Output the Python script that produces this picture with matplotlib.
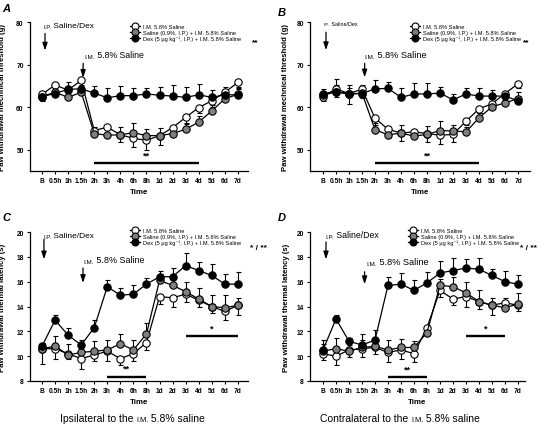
import numpy as np
import matplotlib
matplotlib.use('Agg')
import matplotlib.pyplot as plt
from matplotlib.lines import Line2D

plt.rcParams['font.family'] = ['Liberation Sans', 'DejaVu Sans']

# %% data
time_labels = ['B', '0.5h', '1h', '1.5h', '2h', '3h', '4h', '6h', '8h',
               '1d', '2d', '3d', '4d', '5d', '6d', '7d']

# A: mechanical threshold, ipsilateral
a_ims = [63.0, 65.2, 64.0, 66.3, 54.5, 55.3, 53.5, 52.7, 52.2, 53.3, 55.2, 57.6, 59.9, 61.5, 63.5, 65.8]
a_ims_err = [1.5, 1.8, 1.5, 1.0, 1.2, 1.5, 1.8, 2.0, 2.2, 2.2, 1.5, 1.5, 1.2, 1.5, 1.5, 1.0]
a_sal = [62.5, 63.5, 62.3, 63.5, 53.8, 53.4, 53.5, 54.0, 53.3, 53.3, 53.8, 54.8, 56.5, 59.1, 62.0, 63.0]
a_sal_err = [1.0, 1.5, 1.5, 1.2, 1.5, 1.5, 1.8, 2.2, 1.5, 1.8, 1.5, 1.5, 1.5, 1.5, 1.8, 1.2]
a_dex = [62.5, 63.2, 64.2, 64.3, 63.3, 62.2, 62.7, 62.7, 63.1, 62.8, 62.6, 62.3, 62.9, 62.3, 62.9, 62.9]
a_dex_err = [1.0, 1.8, 1.8, 1.5, 1.7, 2.4, 2.2, 1.8, 1.4, 2.0, 2.6, 2.5, 2.6, 1.8, 1.8, 1.5]

# B: mechanical threshold, contralateral
b_ims = [62.5, 64.3, 63.2, 64.2, 57.4, 54.8, 53.9, 54.2, 53.8, 53.4, 53.6, 56.7, 59.6, 60.8, 63.2, 65.5]
b_ims_err = [1.0, 2.0, 2.5, 2.0, 1.5, 2.0, 1.8, 1.5, 2.0, 2.0, 1.8, 1.0, 1.0, 1.0, 1.0, 1.0]
b_sal = [62.8, 63.6, 63.0, 63.3, 54.7, 53.5, 53.9, 53.2, 53.6, 54.5, 54.4, 54.2, 57.5, 60.1, 61.0, 62.0]
b_sal_err = [1.0, 1.5, 1.5, 1.5, 1.5, 1.8, 2.0, 1.5, 2.0, 2.3, 1.5, 1.2, 1.2, 1.2, 1.2, 1.5]
b_dex = [63.2, 63.6, 63.2, 63.2, 64.3, 64.4, 62.3, 63.1, 63.1, 63.3, 61.7, 63.1, 62.6, 62.6, 62.6, 61.5]
b_dex_err = [1.0, 2.9, 2.0, 2.0, 2.0, 1.4, 2.3, 2.6, 2.5, 1.5, 1.5, 1.5, 1.8, 1.5, 1.2, 1.2]

# C: thermal latency, ipsilateral
c_ims = [10.6, 10.6, 10.2, 9.8, 10.1, 10.4, 9.8, 10.2, 11.1, 14.8, 14.7, 15.0, 14.5, 14.0, 13.6, 14.1]
c_ims_err = [1.2, 0.8, 0.4, 0.8, 0.5, 0.8, 0.5, 0.6, 0.6, 0.6, 0.7, 0.6, 0.5, 0.5, 0.7, 0.8]
c_sal = [10.6, 10.8, 10.1, 10.3, 10.4, 10.5, 11.0, 10.5, 11.8, 16.1, 15.7, 15.2, 14.6, 14.0, 13.9, 14.1]
c_sal_err = [0.5, 0.8, 0.9, 0.6, 0.8, 0.8, 0.8, 0.8, 0.9, 0.5, 0.7, 0.8, 0.9, 0.9, 1.0, 0.6]
c_dex = [10.8, 12.9, 11.7, 10.9, 12.3, 15.6, 14.9, 15.0, 15.8, 16.4, 16.4, 17.3, 16.9, 16.5, 15.8, 15.8]
c_dex_err = [0.3, 0.4, 0.6, 0.4, 0.6, 0.5, 0.6, 0.7, 0.5, 0.5, 0.7, 1.0, 0.7, 0.9, 0.8, 1.0]

# D: thermal latency, contralateral
d_ims = [10.2, 10.0, 10.5, 10.6, 10.7, 10.3, 10.5, 10.2, 12.3, 15.3, 14.6, 14.8, 14.4, 14.1, 14.3, 14.1]
d_ims_err = [0.5, 0.7, 0.6, 0.7, 0.5, 0.8, 0.7, 0.7, 0.4, 0.5, 0.5, 0.8, 0.6, 0.8, 0.4, 0.5]
d_sal = [10.4, 10.6, 10.4, 10.7, 10.8, 10.5, 10.7, 10.7, 11.9, 15.7, 15.6, 15.1, 14.4, 14.1, 13.9, 14.2]
d_sal_err = [0.6, 0.9, 0.5, 0.6, 0.7, 0.8, 0.7, 0.5, 0.5, 0.5, 0.8, 0.9, 0.9, 0.6, 0.8, 0.9]
d_dex = [10.5, 13.0, 11.2, 10.9, 11.3, 15.7, 15.8, 15.3, 15.9, 16.7, 16.9, 17.1, 17.0, 16.5, 16.0, 15.8]
d_dex_err = [0.8, 0.3, 0.3, 0.9, 0.8, 0.7, 0.9, 0.8, 0.9, 1.0, 1.0, 0.7, 0.9, 0.5, 0.9, 0.7]

# significance bars: (start index, end index, level, label)
a_sig = [(4, 12, 46.8, '**')]
b_sig = [(4, 12, 46.8, '**')]
c_sig = [(5, 8, 8.35, '**'), (11, 15, 11.6, '*')]
d_sig = [(5, 8, 8.3, '**'), (11, 14, 11.6, '*')]

leg_labels = ['I.M. 5.8% Saline',
              'Saline (0.9%, I.P.) + I.M. 5.8% Saline',
              'Dex (5 \u03bcg kg\u207b\u00b9, I.P.) + I.M. 5.8% Saline']


def chain_text(ax, x, y, parts, transform=None):
    # small caps faked with a smaller font for the abbreviations
    t = ax.text(x, y, parts[0][0], fontsize=parts[0][1], va='bottom', ha='left',
                transform=transform if transform is not None else ax.transData)
    for s, fs in parts[1:]:
        t = ax.annotate(s, xy=(1, 0), xycoords=t, fontsize=fs, va='bottom', ha='left')
    return t


def draw_panel(ax, ims, ims_err, sal, sal_err, dex, dex_err, sig):
    x = np.arange(len(time_labels))
    z = np.zeros(len(x))
    ekw = dict(fmt='none', ecolor='black', elinewidth=0.8, capsize=1.8, capthick=0.8, zorder=2)
    ax.errorbar(x, ims, yerr=[ims_err, z], **ekw)
    ax.errorbar(x, sal, yerr=[z, sal_err], **ekw)
    ax.errorbar(x, dex, yerr=[z, dex_err], **ekw)
    mkw = dict(marker='o', ms=5.3, color='black', lw=0.9, mec='black', mew=0.8)
    ax.plot(x, ims, mfc='white', zorder=3, **mkw)
    ax.plot(x, sal, mfc='#7f7f7f', zorder=4, **mkw)
    ax.plot(x, dex, mfc='black', zorder=5, **mkw)
    for i0, i1, lev, lab in sig:
        ax.plot([x[i0], x[i1]], [lev, lev], color='black', lw=1.7, solid_capstyle='butt')
        ax.annotate(lab, xy=((x[i0] + x[i1]) / 2, lev), xytext=(0, 3), textcoords='offset points',
                    ha='center', va='bottom', fontsize=6.5, fontweight='bold')
    ax.set_xticks(x)
    ax.set_xticklabels(time_labels, fontsize=4.8, fontweight='bold')
    ax.tick_params(direction='out', length=2.5, width=0.8, pad=2)
    ax.spines['right'].set_visible(False)
    ax.spines['top'].set_visible(False)
    ax.spines['left'].set_linewidth(0.9)
    ax.spines['bottom'].set_linewidth(0.9)
    ax.set_xlabel('Time', fontsize=5.7, fontweight='bold', labelpad=3)
    handles = [Line2D([], [], marker='o', ms=5, color='black', lw=0.9, mew=0.8, mfc=c)
               for c in ['white', '#7f7f7f', 'black']]
    return handles


fig = plt.figure(figsize=(5.48, 4.27), dpi=100)
axA = fig.add_axes([0.0547, 0.5972, 0.3978, 0.3489])
axB = fig.add_axes([0.5657, 0.5972, 0.4015, 0.3489])
axC = fig.add_axes([0.0547, 0.1054, 0.3978, 0.3489])
axD = fig.add_axes([0.5657, 0.1054, 0.3923, 0.3489])

panels = [
    (axA, a_ims, a_ims_err, a_sal, a_sal_err, a_dex, a_dex_err, a_sig),
    (axB, b_ims, b_ims_err, b_sal, b_sal_err, b_dex, b_dex_err, b_sig),
    (axC, c_ims, c_ims_err, c_sal, c_sal_err, c_dex, c_dex_err, c_sig),
    (axD, d_ims, d_ims_err, d_sal, d_sal_err, d_dex, d_dex_err, d_sig),
]
for ax, *rest in panels:
    handles = draw_panel(ax, *rest)

for ax in (axA, axB):
    ax.set_ylim(45, 80)
    ax.set_yticks([50, 60, 70, 80])
    ax.set_ylabel('Paw withdrawal mechnical threshold (g)', fontsize=5.6, fontweight='bold')
for ax in (axC, axD):
    ax.set_ylim(8, 20)
    ax.set_yticks([8, 10, 12, 14, 16, 18, 20])
    ax.set_ylabel('Paw withdrawal thermal latency (s)', fontsize=5.6, fontweight='bold')
for ax in (axA, axB, axC, axD):
    for lab in ax.get_yticklabels():
        lab.set_fontsize(4.8)
        lab.set_fontweight('bold')
axA.set_xlim(-0.92, 15.77)
axB.set_xlim(-1.0, 15.92)
axC.set_xlim(-0.92, 15.77)
axD.set_xlim(-1.0, 15.54)
axA.yaxis.set_label_coords(-0.11, 0.5)
axC.yaxis.set_label_coords(-0.11, 0.5)
axB.yaxis.set_label_coords(-0.095, 0.5)
axD.yaxis.set_label_coords(-0.095, 0.5)

# legends
for ax, lx, ly, sx, sy, star in [(axA, 0.459, 0.99, 1.02, 0.866, '**'),
                                   (axB, 0.455, 0.99, 0.97, 0.866, '**'),
                                   (axC, 0.459, 1.03, 1.01, 0.895, '* / **'),
                                   (axD, 0.456, 1.03, 0.977, 0.895, '* / **')]:
    ax.legend(handles, leg_labels, loc='upper left', bbox_to_anchor=(lx, ly),
              fontsize=4.1, frameon=False, handlelength=1.8, handletextpad=0.4,
              labelspacing=0.2, borderpad=0, borderaxespad=0)
    ax.text(sx, sy, star, transform=ax.transAxes, fontsize=6, ha='left', va='center',
            fontweight='bold', clip_on=False)

# injection arrows and labels
arrow_kw = dict(arrowstyle='-|>,head_length=0.9,head_width=0.3', color='black', lw=0.9,
                mutation_scale=5, shrinkA=0, shrinkB=0)
arrows = [
    (axA, (0.23, 77.3, 73.3), (3.15, 70.3, 66.9), (0.08, 78.3, 4.3, 6.0), (3.24, 71.3, 4.5, 6.3)),
    (axB, (0.23, 77.6, 73.4), (3.2, 70.3, 67.0), (0.08, 79.0, 3.2, 3.9), (3.2, 71.3, 4.6, 6.6)),
    (axC, (0.15, 19.4, 17.8), (3.14, 17.1, 15.9), (0.08, 19.4, 4.3, 6.0), (3.14, 17.4, 4.5, 6.4)),
    (axD, (0.23, 19.2, 17.8), (3.2, 16.8, 15.8), (0.15, 19.4, 4.4, 6.3), (3.3, 17.3, 4.6, 6.6)),
]
for ax, a1, a2, t1, t2 in arrows:
    for ax_x, y0, y1 in (a1, a2):
        ax.annotate('', xy=(ax_x, y1), xytext=(ax_x, y0), arrowprops=arrow_kw)
    chain_text(ax, t1[0], t1[1], [('I.P.', t1[2]), (' Saline/Dex', t1[3])])
    chain_text(ax, t2[0], t2[1], [('I.M.', t2[2]), (' 5.8% Saline', t2[3])])

# panel letters
for lab, fx, fy in [('A', 0.004, 0.99), ('B', 0.507, 0.981), ('C', 0.004, 0.502), ('D', 0.507, 0.502)]:
    fig.text(fx, fy, lab, fontsize=8, fontweight='bold', fontstyle='italic', va='top', ha='left')

# captions
for fx, word in [(0.109, 'Ipsilateral'), (0.584, 'Contralateral')]:
    t = fig.text(fx, 0.006, word + ' to the ', fontsize=7.5, va='bottom', ha='left')
    t = fig.axes[0].annotate('I.M.', xy=(1, 0), xycoords=t, fontsize=5.3, va='bottom', ha='left')
    fig.axes[0].annotate(' 5.8% saline', xy=(1, 0), xycoords=t, fontsize=7.5, va='bottom', ha='left')

fig.savefig('out.png', dpi=100)
